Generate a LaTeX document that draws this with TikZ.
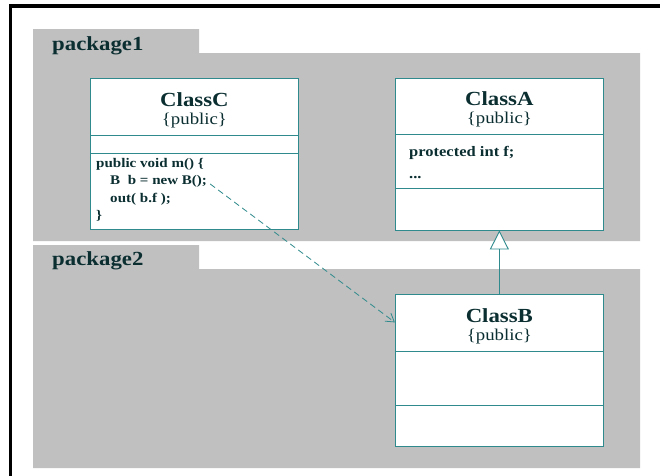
\documentclass[tikz,border=0pt]{standalone}
\usepackage{fontspec}
\setmainfont{Liberation Serif}
\usepackage{xcolor}
\usetikzlibrary{arrows.meta, positioning}

\definecolor{pkggray}{HTML}{C0C0C0}
\definecolor{umlline}{HTML}{2E8A8C}
\definecolor{umltext}{HTML}{0B2E31}

\begin{document}
\begin{tikzpicture}[x=1pt, y=1pt, node distance=96pt,
    classbox/.style={draw=umlline, fill=white, line width=0.9pt, inner sep=0pt,
      minimum width=208pt, minimum height=152pt},
    divider/.style={draw=umlline, line width=0.9pt},
    txt/.style={text=umltext, inner sep=0pt, xscale=1.14},
    pkglabel/.style={txt, font=\bfseries\fontsize{20}{20}\selectfont, anchor=base west},
    cname/.style={txt, font=\bfseries\fontsize{20}{20}\selectfont, anchor=base},
    cvis/.style={txt, font=\fontsize{16.5}{16.5}\selectfont, anchor=base},
    attr/.style={txt, font=\bfseries\fontsize{14.5}{14.5}\selectfont, anchor=base west},
    member/.style={txt, font=\bfseries\fontsize{13.2}{13.2}\selectfont, anchor=base west}]
    \useasboundingbox (0,0) rectangle (660,-475);
    \clip (0,0) rectangle (660,-475);

    % outer frame
    \draw[line width=3.2pt] (10.5,-500) |- (700,-6);

    % packages
    \fill[pkggray] (33,-29) -- (199,-29) -- (199,-53) -- (640,-53) -- (640,-241) -- (33,-241) -- cycle;
    \fill[pkggray] (33,-245) -- (199,-245) -- (199,-269) -- (640,-269) -- (640,-468) -- (33,-468) -- cycle;
    \node[pkglabel] (pkg1) at (52,-50) {package1};
    \node[pkglabel] (pkg2) at (52,-265) {package2};

    % classes
    \node[classbox, anchor=north west, minimum height=151pt] (classC) at (90,-78) {};
    \node[classbox, right=of classC] (classA) {};
    \node[classbox, below=64pt of classA] (classB) {};

    \foreach \c/\d in {classC/57, classC/75, classA/57, classA/111, classB/57, classB/111}
        \draw[divider] ([yshift=-\d]\c.north west) -- ([yshift=-\d]\c.north east);

    \foreach \c/\n in {classC/ClassC, classA/ClassA, classB/ClassB} {
        \node[cname] (\c-name) at ([yshift=-28]\c.north) {\n};
        \node[cvis] (\c-vis) at ([yshift=-46]\c.north) {\{public\}};
    }

    % body of m()
    \node[member] (m1) at ([xshift=6, yshift=-89]classC.north west) {public void m() \{};
    \node[member] (m2) at ([xshift=20, yshift=-106]classC.north west) {B\enspace b = new B();};
    \node[member] (m3) at ([xshift=20, yshift=-124]classC.north west) {out( b.f );};
    \node[member] (m4) at ([xshift=6, yshift=-141]classC.north west) {\}};

    % fields of ClassA
    \node[attr] (fieldf) at ([xshift=14, yshift=-79]classA.north west) {protected int f;};
    \node[attr] (etc) at ([xshift=14, yshift=-101]classA.north west) {...};

    % dependency and inheritance
    \coordinate (bin) at ([yshift=-28]classB.north west);
    \draw[umlline, line width=0.8pt, dash pattern=on 6pt off 4pt,
        -{Straight Barb[length=8pt, width=10pt]}] ([xshift=3]m2.base east) -- (bin);
    \draw[umlline, line width=0.9pt,
        -{Triangle[open, fill=white, length=19pt, width=19pt]}] (classB.north) -- (classA.south);
\end{tikzpicture}
\end{document}
